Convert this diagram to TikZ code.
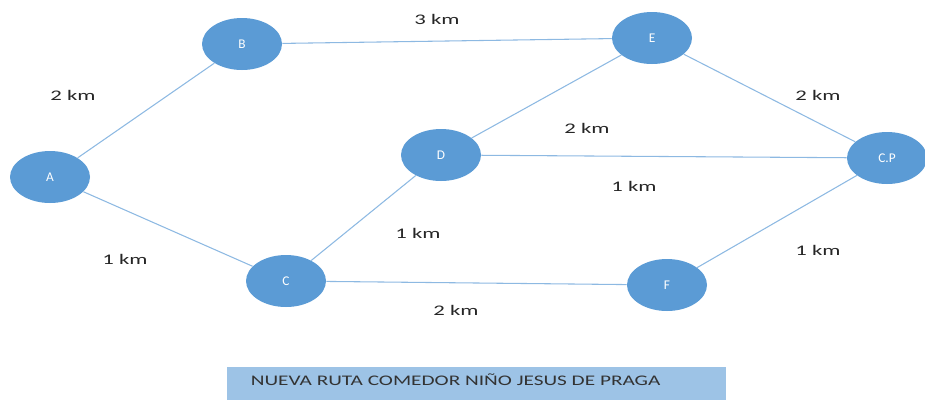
\documentclass[tikz,border=0pt]{standalone}
\usepackage{fontspec}
\setmainfont{Carlito}
\usetikzlibrary{shapes.geometric}
\definecolor{nodeblue}{HTML}{5B9BD5}
\definecolor{edgeblue}{HTML}{8DB9E2}
\definecolor{capblue}{HTML}{9DC3E6}
\tikzset{
  stop/.style={ellipse, fill=nodeblue, draw=none, minimum width=60pt, minimum height=39pt, inner sep=0pt, text=white, font=\fontsize{10}{12}\selectfont},
  road/.style={draw=edgeblue, line width=0.8pt},
  dist/.style={font=\fontsize{11}{13}\selectfont, text=black!85, xscale=1.55}
}
\begin{document}
\begin{tikzpicture}[x=0.75pt,y=-0.75pt]
            \useasboundingbox (0,0) rectangle (925,400);

            % Start node
            \node[stop] (a) at (50,177) {A};

            % Upper and lower branch nodes
            \node[stop] (b) at (242,44) {B};
            \draw[road] (a) -- (b);
            \node[stop] (c) at (286,281) {C};
            \draw[road] (a) -- (c);

            % Middle nodes
            \node[stop] (d) at (441,155) {D};
            \draw[road] (c) -- (d);
            \node[stop] (e) at (652,38) {E};
            \draw[road] (b) -- (e);
            \draw[road] (d) -- (e);
            \node[stop] (f) at (667,285) {F};
            \draw[road] (c) -- (f);

            % End node
            \node[stop] (cp) at (887,158) {C.P};
            \draw[road] (e) -- (cp);
            \draw[road] (d) -- (cp);
            \draw[road] (f) -- (cp);

            % Distances
            \node[dist] (l1) at (73,95) {2 km};
            \node[dist] (l2) at (125,259) {1 km};
            \node[dist] (l3) at (437,19) {3 km};
            \node[dist] (l4) at (587,128) {2 km};
            \node[dist] (l5) at (634,186) {1 km};
            \node[dist] (l6) at (818,95) {2 km};
            \node[dist] (l7) at (418,233) {1 km};
            \node[dist] (l8) at (456,310) {2 km};
            \node[dist] (l9) at (818,250) {1 km};

            % Caption
            \node[fill=capblue, minimum width=374pt, minimum height=25pt, inner sep=0pt, anchor=north west] (cap) at (227,367) {};
            \node[anchor=west, text=black!80, font=\fontsize{11}{13}\selectfont, xscale=1.45] (captxt) at (244,380) {NUEVA RUTA COMEDOR NIÑO JESUS DE PRAGA};
        \end{tikzpicture}
\end{document}
